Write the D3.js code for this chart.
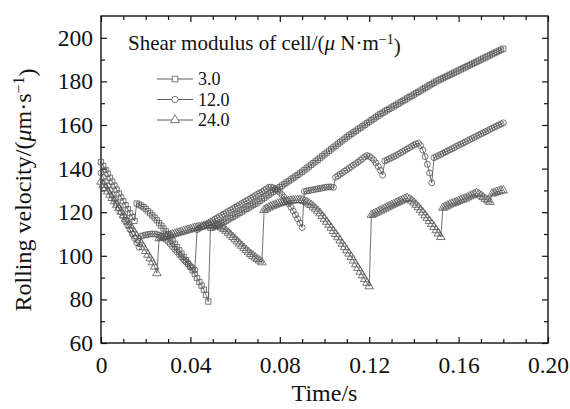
<!DOCTYPE html>
<html>
<head>
<meta charset="utf-8">
<script src="https://cdn.jsdelivr.net/npm/d3@7"></script>
<style>
  body { margin: 0; background: #fff; }
  text { font-family: "Liberation Serif", "DejaVu Serif", serif; fill: #111; }
</style>
</head>
<body>
<div id="chart"></div>
<script>
//Canvas dimensions and margins
var width = 570,
    height = 409;

var margin = {
    top: 16,
    bottom: 66,
    left: 101,
    right: 22
};

//Sampling interval of the simulation output (s)
var timeStep = 0.001;

//Tick labels
var xTicks = [0, 0.04, 0.08, 0.12, 0.16, 0.20],
    xMinorTicks = [0.01, 0.02, 0.03, 0.05, 0.06, 0.07, 0.09, 0.10, 0.11, 0.13, 0.14, 0.15, 0.17, 0.18, 0.19],
    yTicks = [60, 80, 100, 120, 140, 160, 180, 200],
    yMinorTicks = [70, 90, 110, 130, 150, 170, 190];

//Legend entries (shear modulus of cell)
var moduli = ["3.0", "12.0", "24.0"];

//Rolling velocity, one value per time step, for each shear modulus
var velocity3 = [
  143,141.2,139.4,137.6,135.8,134,132.2,130.4,128.6,126.8,125,123.2,121.4,119.6,117.8,116,
  124,123.5,123,122.3,121.5,120.5,119.5,118.5,117.5,116.3,115,113.8,112.5,111.2,109.8,108.4,
  107,105.5,104,102.5,101,99.5,98,96.5,95,93.3,91.6,89.8,88,86.3,84.5,82,79,
  112.8,113,113.5,114,114.5,115,115.5,116.1,116.7,117.3,117.9,118.5,119.1,119.7,120.3,120.9,121.5,
  122.1,122.7,123.3,123.9,124.5,125.2,125.9,126.6,127.3,128,128.7,129.4,130.1,130.8,131.5,
  132.2,132.9,133.6,134.3,135,135.7,136.4,137.1,137.8,138.5,139.3,140.1,140.9,141.7,142.5,
  143.3,144.1,144.9,145.7,146.5,147.3,148.1,148.9,149.7,150.5,151.3,152.1,152.9,153.7,154.5,
  155.2,155.9,156.6,157.3,158,158.7,159.4,160.1,160.8,161.5,162.2,162.9,163.6,164.3,165,
  165.6,166.2,166.8,167.4,168,168.6,169.2,169.8,170.4,171,171.6,172.2,172.8,173.4,174,
  174.6,175.2,175.8,176.4,177,177.6,178.2,178.8,179.4,180,180.5,181,181.5,182,182.5,
  183,183.5,184,184.5,185,185.5,186,186.5,187,187.5,188,188.5,189,189.5,190,
  190.5,191,191.5,192,192.5,193,193.5,194,194.5,195
];

var velocity12 = [
  138,136,134,132,130,128,126,124,122,120,118,116,114,112,110,108,106,104,
  109,109.3,109.6,109.8,110,110,110,109.8,109.5,109,108.3,107.5,106.5,
  105.4,104.2,103,101.8,100.6,99.4,98.2,97.2,96.2,95.2,94.3,93.5,
  112,112.6,113.2,113.8,114.4,115,115.6,116.2,116.8,117.4,118,118.6,119.2,119.8,120.4,121,
  121.6,122.2,122.8,123.4,124,124.6,125.2,125.8,126.4,127,127.6,128.2,128.8,129.4,130,130.7,131.4,
  131.5,131.2,130.7,130,129.1,128,126.8,125.4,123.9,122.3,120.6,118.8,117,115,113,
  129.5,129.7,129.9,130.1,130.3,130.5,130.7,130.9,131.1,131.3,131.5,131.6,131.6,131.4,
  136,136.7,137.4,138.1,138.8,139.5,140.2,140.9,141.6,142.3,143,143.8,144.6,145.4,146,
  145.6,145,144,142.6,141,139.2,137,
  143.5,144,144.5,145,145.5,146,146.6,147.2,147.8,148.4,149,149.6,150.2,150.8,151.3,151.6,
  150.5,148.5,145.5,142,138,133.5,
  145,145.5,146,146.5,147,147.6,148.1,148.6,149.1,149.6,150.2,150.7,151.2,151.7,152.2,152.8,
  153.3,153.8,154.3,154.8,155.4,155.9,156.4,156.9,157.4,158,158.5,159,159.5,160,160.5,161
];

var velocity24 = [
  134,132.5,131,129.5,128,126.5,125,123.4,121.8,120.2,118.6,117,115.4,113.8,112.2,110.6,
  109,107.3,105.6,103.9,102.2,100.5,98.8,97,95,92,
  108,108.3,108.6,108.9,109.2,109.5,109.8,110.1,110.4,110.7,111,111.3,111.6,111.9,112.2,
  112.5,112.8,113,113.2,113.4,113.6,113.8,113.9,114,114,114,113.8,113.5,113,112.3,
  111.5,110.6,109.6,108.6,107.6,106.6,105.6,104.6,103.6,102.6,101.7,100.8,100,99.2,98.5,97.8,97,
  121,121.6,122.1,122.6,123,123.4,123.8,124.1,124.4,124.7,124.9,125.1,125.3,125.4,125.5,125.6,125.6,
  125.4,125.1,124.6,124,123.3,122.5,121.6,120.6,119.5,118.3,117,115.6,114.2,112.8,111.4,110,
  108.5,107,105.5,104,102.5,101,99.4,97.8,96.1,94.4,92.7,91,89.3,87.6,86,
  118.7,119.2,119.7,120.2,120.7,121.2,121.7,122.2,122.7,123.2,123.7,124.2,124.7,125.2,125.7,126.1,126.5,
  126,125.3,124.4,123.4,122.3,121.1,119.9,118.6,117.3,116,114.6,113.2,111.7,110.2,108.6,
  122,122.5,123,123.5,123.9,124.3,124.7,125.1,125.5,125.9,126.3,126.8,127.3,127.8,128.3,128.8,
  128.3,127.6,126.9,126.1,125.4,124.7,
  128.5,128.9,129.3,129.6,129.9,130
];

var series = [
  {name: moduli[0], values: velocity3, symbol: d3.symbolSquare, size: 28},
  {name: moduli[1], values: velocity12, symbol: d3.symbolCircle, size: 28},
  {name: moduli[2], values: velocity24, symbol: d3.symbolTriangle, size: 32}
];

// create an svg to draw in
var svg = d3.select("#chart")
    .append("svg")
    .attr("width", width)
    .attr("height", height);

var plotWidth = width - margin.left - margin.right,
    plotHeight = height - margin.top - margin.bottom;

var g = svg.append("g")
    .attr("transform", "translate(" + margin.left + "," + margin.top + ")");

var x = d3.scaleLinear().domain([0, 0.2]).range([0, plotWidth]);
var y = d3.scaleLinear().domain([60, 210]).range([plotHeight, 0]);

// axes, ticks pointing inward on all four sides
function styleAxis(sel) {
    sel.select(".domain").remove();
    sel.selectAll("line").attr("stroke", "#111").attr("stroke-width", 1.2);
    sel.selectAll("text").style("font-size", "23.5px").attr("fill", "#111");
}

g.append("g")
    .attr("transform", "translate(0," + plotHeight + ")")
    .call(d3.axisBottom(x).tickValues(xTicks).tickSize(-6).tickPadding(13)
        .tickFormat(function(d) { return d === 0 ? "0" : d.toFixed(2); }))
    .call(styleAxis);

g.append("g")
    .attr("transform", "translate(0," + plotHeight + ")")
    .call(d3.axisBottom(x).tickValues(xMinorTicks).tickSize(-4).tickFormat(""))
    .call(styleAxis);

g.append("g")
    .call(d3.axisTop(x).tickValues(xTicks).tickSize(-6).tickFormat(""))
    .call(styleAxis);

g.append("g")
    .call(d3.axisTop(x).tickValues(xMinorTicks).tickSize(-4).tickFormat(""))
    .call(styleAxis);

g.append("g")
    .call(d3.axisLeft(y).tickValues(yTicks).tickSize(-6).tickPadding(8))
    .call(styleAxis);

g.append("g")
    .call(d3.axisLeft(y).tickValues(yMinorTicks).tickSize(-4).tickFormat(""))
    .call(styleAxis);

g.append("g")
    .attr("transform", "translate(" + plotWidth + ",0)")
    .call(d3.axisRight(y).tickValues(yTicks).tickSize(-6).tickFormat(""))
    .call(styleAxis);

g.append("g")
    .attr("transform", "translate(" + plotWidth + ",0)")
    .call(d3.axisRight(y).tickValues(yMinorTicks).tickSize(-4).tickFormat(""))
    .call(styleAxis);

// frame
g.append("rect")
    .attr("width", plotWidth)
    .attr("height", plotHeight)
    .attr("fill", "none")
    .attr("stroke", "#111")
    .attr("stroke-width", 1.4);

var line = d3.line()
    .x(function(d, i) { return x(i * timeStep); })
    .y(function(d) { return y(d); });

// lines and open markers for every series
series.forEach(function(s) {
    g.append("path")
        .datum(s.values)
        .attr("fill", "none")
        .attr("stroke", "#333")
        .attr("stroke-width", 0.7)
        .attr("d", line);

    g.selectAll(".m" + s.name.replace(".", ""))
        .data(s.values)
        .enter()
        .append("path")
        .attr("d", d3.symbol().type(s.symbol).size(s.size))
        .attr("transform", function(d, i) {
            return "translate(" + x(i * timeStep) + "," + y(d) + ")";
        })
        .attr("fill", "none")
        .attr("stroke", "#555")
        .attr("stroke-width", 0.8);
});

// legend
var legend = svg.append("g");

var title = legend.append("text")
    .attr("x", 128)
    .attr("y", 50)
    .style("font-size", "21px");
title.append("tspan").text("Shear modulus of cell/(");
title.append("tspan").style("font-style", "italic").text("\u03bc");
title.append("tspan").text(" N\u00b7m");
title.append("tspan").attr("dy", "-0.45em").style("font-size", "14px").text("\u22121");
title.append("tspan").attr("dy", "0.45em").text(")");

var legendRow = legend.selectAll(".legendRow")
    .data(series)
    .enter()
    .append("g")
    .attr("transform", function(d, i) { return "translate(0," + (79 + i * 20.5) + ")"; });

legendRow.append("line")
    .attr("x1", 157)
    .attr("x2", 193)
    .attr("stroke", "#333")
    .attr("stroke-width", 0.8);

legendRow.append("path")
    .attr("d", function(d) { return d3.symbol().type(d.symbol).size(d.size + 4)(); })
    .attr("transform", "translate(175,0)")
    .attr("fill", "#fff")
    .attr("stroke", "#555")
    .attr("stroke-width", 0.8);

legendRow.append("text")
    .attr("x", 198)
    .attr("dy", "0.35em")
    .style("font-size", "18px")
    .text(function(d) { return d.name; });

// axis titles
svg.append("text")
    .attr("x", margin.left + plotWidth / 2)
    .attr("y", 401)
    .attr("text-anchor", "middle")
    .style("font-size", "24px")
    .text("Time/s");

var yTitle = svg.append("text")
    .attr("transform", "translate(31," + 190 + ") rotate(-90)")
    .attr("text-anchor", "middle")
    .style("font-size", "24px");
yTitle.append("tspan").text("Rolling velocity/(");
yTitle.append("tspan").style("font-style", "italic").text("\u03bc");
yTitle.append("tspan").text("m\u00b7s");
yTitle.append("tspan").attr("dy", "-0.45em").style("font-size", "16px").text("\u22121");
yTitle.append("tspan").attr("dy", "0.45em").text(")");
</script>
</body>
</html>
